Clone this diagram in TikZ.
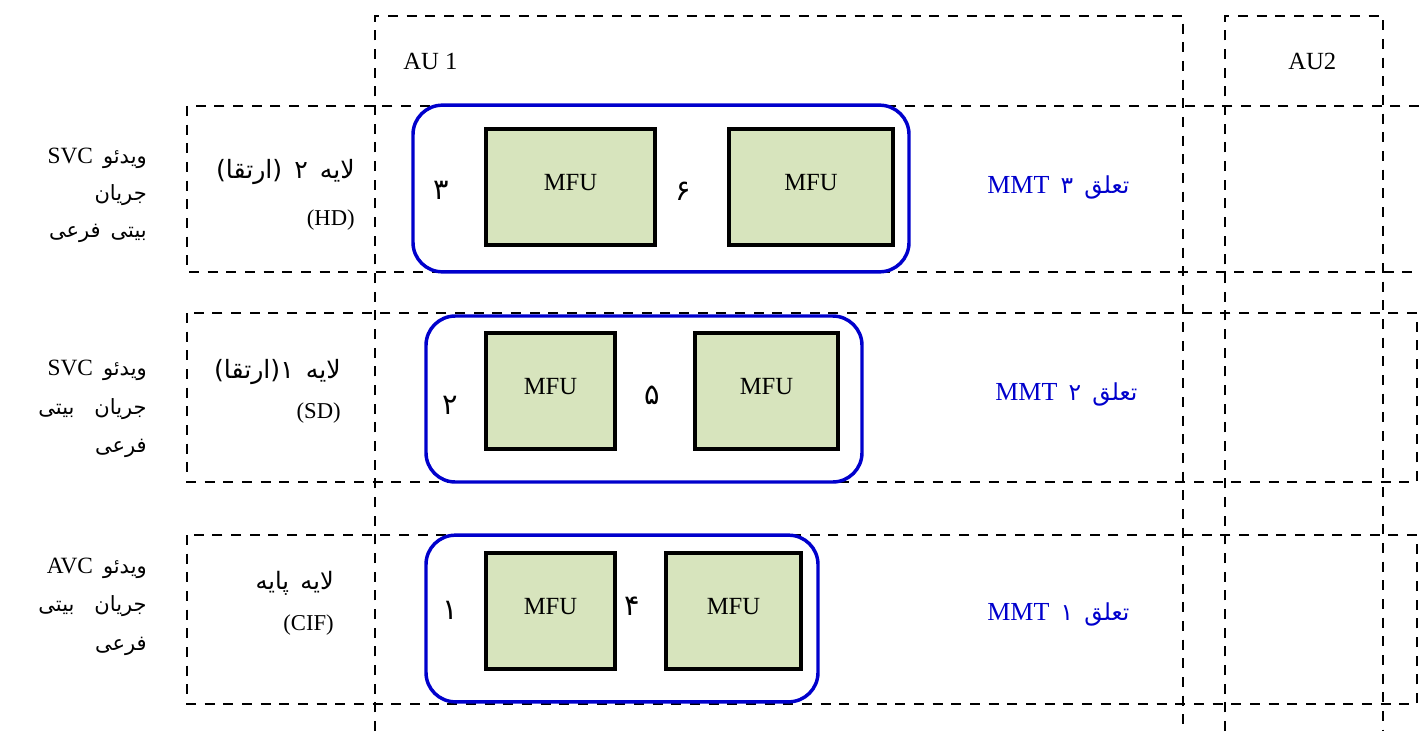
\documentclass[tikz,border=0pt]{standalone}
\usepackage{fontspec}
\setmainfont{Liberation Serif}
\newfontfamily\fa[Script=Arabic,Scale=0.9,WordSpace=1.5]{DejaVu Sans}
\TeXXeTstate=1
\definecolor{mmtblue}{RGB}{0,0,204}
\definecolor{mfugreen}{RGB}{215,228,189}
% right-to-left run in the Persian font, and a left-to-right run inside it
\newcommand\PersianRun[1]{{\fa\beginR #1\endR}}
\newcommand\LatinRun[1]{\beginL{\rmfamily #1}\endL}

\begin{document}
\begin{tikzpicture}[x=0.75pt,y=-0.75pt,
  grid/.style={draw=black,line width=1.9pt,dash pattern=on 7.5pt off 6.5pt},
  group/.style={draw=mmtblue,line width=2.6pt,rounded corners=22pt,minimum height=125pt,inner sep=0pt},
  mfu/.style={draw=black,line width=3pt,fill=mfugreen,minimum height=87pt,inner sep=0pt,text depth=7pt,font=\fontsize{18.5}{22}\selectfont},
  seq/.style={inner sep=0pt,font=\fa\fontsize{24}{28}\selectfont},
  mmt/.style={inner sep=0pt,anchor=base west,text=mmtblue,font=\fontsize{18.5}{22}\selectfont},
  au/.style={inner sep=0pt,anchor=base west,font=\fontsize{18.5}{22}\selectfont},
  side/.style={inner sep=0pt,anchor=east,align=right},
  layer/.style={inner sep=0pt,anchor=east,align=right}]
\useasboundingbox (0,0) rectangle (1419,731);

% access-unit columns
\draw[grid] (375,731) -- (375,16) -- (1183,16) -- (1183,731);
\draw[grid] (1225,731) -- (1225,16) -- (1383,16) -- (1383,731);
% layer rows
\draw[grid] (1419,106) -- (187,106) -- (187,272) -- (1419,272);
\draw[grid] (187,313) rectangle (1417,482);
\draw[grid] (187,535) rectangle (1417,704);

\node[au] (au1) at (403,70) {AU 1};
\node[au] (au2) at (1288,70) {AU2};

% enhancement layer 2
\node[group,minimum width=372pt] (g3) at (661,188.5) {};
\node[mfu,minimum width=126.75pt] (m31) at (570.5,187) {MFU};
\node[mfu,minimum width=123pt] (m32) at (811,187) {MFU};
\node[seq] (n3) at (441,190) {۳};
\node[seq] (n6) at (683,191) {۶};
\node[mmt] (t3) at (987,193) {\PersianRun{\fontsize{19.5}{22}\selectfont تعلق ۳ \LatinRun{MMT}}};

% enhancement layer 1
\node[group,minimum width=327pt,minimum height=124.5pt] (g2) at (644,399) {};
\node[mfu,minimum width=96.75pt] (m21) at (550.5,391) {MFU};
\node[mfu,minimum width=107.25pt] (m22) at (766.5,391) {MFU};
\node[seq] (n2) at (450,405) {۲};
\node[seq] (n5) at (652,395) {۵};
\node[mmt] (t2) at (995,400) {\PersianRun{\fontsize{19.5}{22}\selectfont تعلق ۲ \LatinRun{MMT}}};

% base layer
\node[group,minimum width=294pt] (g1) at (622,618.5) {};
\node[mfu,minimum width=96.75pt] (m11) at (550.5,611) {MFU};
\node[mfu,minimum width=101.25pt] (m12) at (733.5,611) {MFU};
\node[seq] (n1) at (450,610) {۱};
\node[seq] (n4) at (632,606) {۴};
\node[mmt] (t1) at (987,620) {\PersianRun{\fontsize{19.5}{22}\selectfont تعلق ۱ \LatinRun{MMT}}};

% layer names
\node[layer,font=\fontsize{17}{35}\selectfont] (l3) at (355,195)
  {\PersianRun{\fontsize{21}{35}\selectfont لایه ۲ (ارتقا)}\\(HD)};
\node[layer,font=\fontsize{17}{30}\selectfont] (l2) at (341,391)
  {\PersianRun{\fontsize{21}{30}\selectfont لایه ۱(ارتقا)}\\(SD)};
\node[layer,font=\fontsize{17}{31}\selectfont] (l1) at (334,603)
  {\PersianRun{\fontsize{20}{31}\selectfont لایه پایه}\\(CIF)};

% sub-bitstream names
\node[side,font=\fontsize{17.5}{28}\selectfont] (s3) at (147,195.5)
  {\PersianRun{ویدئو \LatinRun{SVC}}\\\PersianRun{جریان}\\\PersianRun{بیتی فرعی}};
\node[side,font=\fontsize{17.5}{29}\selectfont] (s2) at (147,409)
  {\PersianRun{ویدئو \LatinRun{SVC}}\\\PersianRun{جریان \ بیتی}\\\PersianRun{فرعی}};
\node[side,font=\fontsize{17.5}{29}\selectfont] (s1) at (147,606.5)
  {\PersianRun{ویدئو \LatinRun{AVC}}\\\PersianRun{جریان \ بیتی}\\\PersianRun{فرعی}};
\end{tikzpicture}
\end{document}
